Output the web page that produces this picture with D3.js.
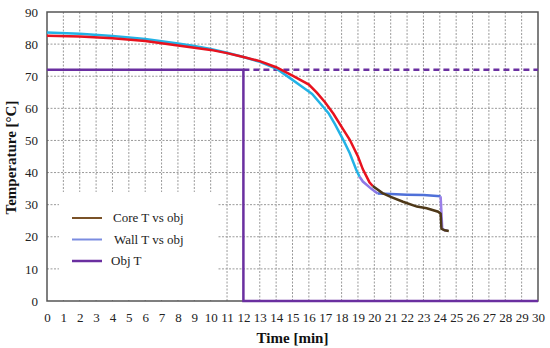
<!DOCTYPE html>
<html>
<head>
<meta charset="utf-8">
<script src="https://cdn.jsdelivr.net/npm/d3@7"></script>
<style>
  body { margin: 0; background: #fff; }
</style>
</head>
<body>
<div id="chart"></div>
<script>
// core temperature (t [min], T [°C])
const coreTime = [0, 2, 4, 6, 8, 9, 10, 11, 12, 13, 14, 15, 16, 16.5, 17, 17.5, 18, 18.5, 19, 19.3, 19.7, 19.9, 20.5, 21, 21.75, 22.6, 23.2, 23.9, 24.05, 24.1, 24.3, 24.55]
const coreTemp = [82.6, 82.4, 81.8, 81, 79.6, 78.9, 78.2, 77.2, 76, 74.7, 72.8, 70.2, 67.4, 64.8, 61.8, 58.3, 54.2, 50.2, 45, 41, 37, 35.8, 33.6, 32.4, 30.9, 29.4, 28.9, 27.8, 27.2, 22.5, 22, 21.8]
// wall temperature
const wallTime = [0, 2, 4, 6, 8, 9, 10, 11, 12, 13, 14, 14.85, 15.5, 16.2, 16.7, 17.2, 17.6, 18.1, 18.5, 18.9, 19.1, 19.3, 19.8, 20.2, 21, 22, 23, 24.05, 24.15, 24.3, 24.5]
const wallTemp = [83.6, 83.2, 82.5, 81.6, 80.2, 79.4, 78.5, 77.3, 76, 74.5, 72.4, 69.4, 67, 64.5, 61.5, 58.5, 55, 50.2, 46, 40.8, 38.7, 37.2, 35, 33.5, 33.3, 33.1, 33, 32.6, 22.5, 22, 21.9]
// objective temperature
const objTime = [0, 12, 12, 30]
const objTemp = [72, 72, 0, 0]
const objLevel = 72

const xTicks = d3.range(0, 31)
const yTicks = d3.range(0, 91, 10)
const legendNames = ['Core T vs obj', 'Wall T vs obj', 'Obj T']
const legendColors = ['#7a5228', '#7b8ce0', '#6a2fa0']

const width = 550, height = 348
const margin = { left: 47, right: 12, top: 12, bottom: 47 }
const serif = '"Liberation Serif", "Times New Roman", serif'

const svg = d3.select('#chart').append('svg').attr('width', width).attr('height', height)

const x = d3.scaleLinear().domain([0, 30]).range([margin.left, width - margin.right])
const y = d3.scaleLinear().domain([0, 90]).range([height - margin.bottom, margin.top])

// grid
svg.append('g').selectAll('line').data(xTicks.slice(1, -1)).enter().append('line')
    .attr('x1', d => x(d)).attr('x2', d => x(d))
    .attr('y1', y(90)).attr('y2', y(0))
    .attr('stroke', '#9a9a9a').attr('stroke-width', 1).attr('stroke-dasharray', '2,1.5')
svg.append('g').selectAll('line').data(yTicks.slice(1, -1)).enter().append('line')
    .attr('x1', x(0)).attr('x2', x(30))
    .attr('y1', d => y(d)).attr('y2', d => y(d))
    .attr('stroke', '#9a9a9a').attr('stroke-width', 1).attr('stroke-dasharray', '2,1.5')

// legend background hides grid
svg.append('rect').attr('x', 59).attr('y', 192).attr('width', 158).attr('height', y(0) - 193).attr('fill', '#fff')

// frame
svg.append('rect').attr('x', x(0)).attr('y', y(90)).attr('width', x(30) - x(0)).attr('height', y(0) - y(90))
    .attr('fill', 'none').attr('stroke', '#555').attr('stroke-width', 1.5)

// axes labels
const xAxis = svg.append('g').attr('transform', `translate(0,${y(0) + 12})`)
    .call(d3.axisBottom(x).tickValues(xTicks).tickSize(0).tickPadding(0).tickFormat(d3.format('d')))
xAxis.select('.domain').remove()
xAxis.selectAll('text').style('font-family', serif).attr('font-size', 13).attr('fill', '#222')

const yAxis = svg.append('g').attr('transform', `translate(${x(0) - 9},0)`)
    .call(d3.axisLeft(y).tickValues(yTicks).tickSize(0).tickPadding(0).tickFormat(d3.format('d')))
yAxis.select('.domain').remove()
yAxis.selectAll('text').style('font-family', serif).attr('font-size', 13).attr('fill', '#222')

svg.append('text').attr('x', (x(0) + x(30)) / 2).attr('y', 343).attr('text-anchor', 'middle')
    .style('font-family', serif).attr('font-size', 15).attr('font-weight', 'bold').attr('fill', '#111').text('Time [min]')
svg.append('text').attr('transform', `translate(16,${(y(0) + y(90)) / 2 + 1}) rotate(-90)`).attr('text-anchor', 'middle')
    .style('font-family', serif).attr('font-size', 15).attr('font-weight', 'bold').attr('fill', '#111').text('Temperature [°C]')

// series
const line = d3.line().x(d => x(d[0])).y(d => y(d[1]))
const core = coreTime.map((t, i) => [t, coreTemp[i]])
const wall = wallTime.map((t, i) => [t, wallTemp[i]])

function segment (pts, from, to) {
    return pts.filter(p => p[0] >= from && p[0] <= to)
}

// objective temperature
svg.append('path').attr('d', line(objTime.map((t, i) => [t, objTemp[i]])))
    .attr('fill', 'none').attr('stroke', '#6a2fa0').attr('stroke-width', 2.5)
svg.append('line').attr('x1', x(12)).attr('x2', x(30)).attr('y1', y(objLevel)).attr('y2', y(objLevel))
    .attr('stroke', '#6a2fa0').attr('stroke-width', 2.5).attr('stroke-dasharray', '6,4')

// wall
svg.append('path').attr('d', line(segment(wall, 0, 19.1))).attr('fill', 'none').attr('stroke', '#22b2e6').attr('stroke-width', 2.5)
svg.append('path').attr('d', line(segment(wall, 19.1, 20.2))).attr('fill', 'none').attr('stroke', '#8c78e6').attr('stroke-width', 2.5)
svg.append('path').attr('d', line(segment(wall, 20.2, 24.05))).attr('fill', 'none').attr('stroke', '#4f70d8').attr('stroke-width', 2.5)
svg.append('path').attr('d', line(segment(wall, 24.05, 25))).attr('fill', 'none').attr('stroke', '#9a7fe8').attr('stroke-width', 2.5)

// core
svg.append('path').attr('d', line(segment(core, 0, 19.9))).attr('fill', 'none').attr('stroke', '#e8121e').attr('stroke-width', 2.5)
svg.append('path').attr('d', line(segment(core, 19.9, 25))).attr('fill', 'none').attr('stroke', '#4e3818').attr('stroke-width', 2.5)

// legend
const leg = svg.append('g').selectAll('g').data(legendNames).enter().append('g')
    .attr('transform', (d, i) => `translate(72,${218 + i * 21.5})`)
leg.append('line').attr('x1', 0).attr('x2', 30).attr('stroke', (d, i) => legendColors[i]).attr('stroke-width', (d, i) => i === 2 ? 2.5 : 2)
leg.append('text').attr('x', (d, i) => [41, 42, 39][i]).attr('y', 4).style('font-family', serif).attr('font-size', 13).attr('fill', '#222').text(d => d)
</script>
</body>
</html>
